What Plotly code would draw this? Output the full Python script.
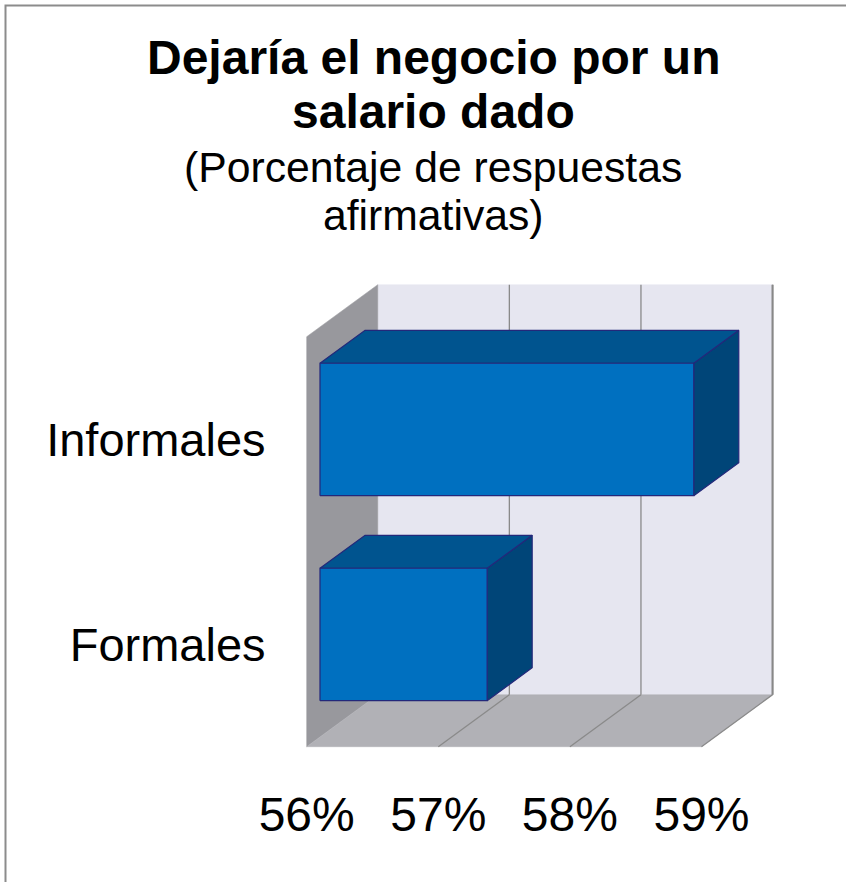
import plotly.graph_objects as go

# ---- data ----
categories = ["Formales", "Informales"]
values = [57.27, 58.84]          # % of affirmative answers
tick_values = [56, 57, 58, 59]
tick_labels = ["56%", "57%", "58%", "59%"]

title_line1 = "Dejaría el negocio por un"
title_line2 = "salario dado"
subtitle_line1 = "(Porcentaje de respuestas"
subtitle_line2 = "afirmativas)"

# ---- 3D look parameters (in data units) ----
AX_MIN = min(tick_values)
AX_MAX = max(tick_values)
DX = 0.54        # depth offset along x (percentage units)
DY = 0.2537      # depth offset along y (category units)
F0, F1 = 0.187, 0.821   # bar depth span (fraction of full depth)
BAR_W = 0.646           # bar thickness (category units)

FONT = "Liberation Sans, Arial, sans-serif"
C_BACK = "#e6e6f0"
C_LEFT = "#98989d"
C_FLOOR = "#b1b1b6"
C_GRID = "#8a8a8a"
C_FRONT = "#0070c0"
C_TOP = "#00548f"
C_SIDE = "#004578"
C_EDGE = "#23287a"

fig = go.Figure()

def poly(xs, ys, fill, line_color, lw=1):
    fig.add_trace(go.Scatter(
        x=list(xs) + [xs[0]], y=list(ys) + [ys[0]], mode="lines",
        fill="toself", fillcolor=fill,
        line=dict(color=line_color, width=lw),
        hoverinfo="skip", showlegend=False))

def seg(x0, y0, x1, y1, color, lw=1.2):
    fig.add_trace(go.Scatter(x=[x0, x1], y=[y0, y1], mode="lines",
                             line=dict(color=color, width=lw),
                             hoverinfo="skip", showlegend=False))

n = len(categories)
ylo, yhi = -0.5, n - 0.5

# back wall
poly([AX_MIN + DX, AX_MAX + DX, AX_MAX + DX, AX_MIN + DX],
     [ylo + DY, ylo + DY, yhi + DY, yhi + DY], C_BACK, C_BACK, 0.5)
# left wall
poly([AX_MIN, AX_MIN + DX, AX_MIN + DX, AX_MIN],
     [ylo, ylo + DY, yhi + DY, yhi], C_LEFT, C_LEFT, 0.5)
# floor
poly([AX_MIN, AX_MAX, AX_MAX + DX, AX_MIN + DX],
     [ylo, ylo, ylo + DY, ylo + DY], C_FLOOR, C_FLOOR, 0.5)

# gridlines on back wall and floor
for t in tick_values[1:]:
    seg(t + DX, ylo + DY, t + DX, yhi + DY, C_GRID, 1.3)
    seg(t, ylo, t + DX, ylo + DY, C_GRID, 1.3)
seg(AX_MAX + DX, ylo + DY, AX_MAX + DX, yhi + DY, "#888888", 2)

# bars (drawn from top category down)
order = sorted(range(n), key=lambda i: -i)
for i in order:
    v = values[i]
    c = i
    b, t = c - BAR_W / 2, c + BAR_W / 2
    x0f, x1f = AX_MIN + F0 * DX, v + F0 * DX
    x0b, x1b = AX_MIN + F1 * DX, v + F1 * DX
    # side
    poly([x1f, x1b, x1b, x1f], [b + F0 * DY, b + F1 * DY, t + F1 * DY, t + F0 * DY],
         C_SIDE, C_EDGE, 1.2)
    # top
    poly([x0f, x1f, x1b, x0b], [t + F0 * DY, t + F0 * DY, t + F1 * DY, t + F1 * DY],
         C_TOP, C_EDGE, 1.2)
    # front
    poly([x0f, x1f, x1f, x0f], [b + F0 * DY, b + F0 * DY, t + F0 * DY, t + F0 * DY],
         C_FRONT, C_EDGE, 1.2)

# ---- layout ----
W, H = 846, 882
L, R, T, B = 300, 66, 278, 130
px_per_x = 131.6
px_per_y = 205.0
x_start = AX_MIN - 6.7 / px_per_x
x_end = x_start + (W - L - R) / px_per_x
y_start = ylo - 5.3 / px_per_y
y_end = y_start + (H - T - B) / px_per_y

plot_w = W - L - R
plot_h = H - T - B

def px_to_paper_x(px):
    return (px - L) / plot_w

def px_to_paper_y(py):
    return (H - B - py) / plot_h

fig.update_layout(
    width=W, height=H,
    margin=dict(l=L, r=R, t=T, b=B, autoexpand=False),
    paper_bgcolor="white", plot_bgcolor="white",
    font=dict(family=FONT, color="black"),
    xaxis=dict(range=[x_start, x_end], tickvals=tick_values, ticktext=tick_labels,
               showgrid=False, zeroline=False, showline=False,
               ticks="outside", ticklen=20, tickcolor="rgba(0,0,0,0)",
               tickfont=dict(size=48, family=FONT, color="black"), fixedrange=True),
    yaxis=dict(range=[y_start, y_end], tickvals=list(range(n)), ticktext=categories,
               showgrid=False, zeroline=False, showline=False,
               ticks="outside", ticklen=24, tickcolor="rgba(0,0,0,0)",
               tickfont=dict(size=47, family=FONT, color="black"), fixedrange=True),
    showlegend=False,
)

cx = px_to_paper_x(433)
anns = [
    (title_line1, 57, 48, True),
    (title_line2, 111, 48, True),
    (subtitle_line1, 167, 42.7, False),
    (subtitle_line2, 215, 42.7, False),
]
for text, yc, size, bold in anns:
    fig.add_annotation(
        text=f"<b>{text}</b>" if bold else text,
        xref="paper", yref="paper", x=cx, y=px_to_paper_y(yc),
        xanchor="center", yanchor="middle", showarrow=False,
        font=dict(size=size, family=FONT, color="black"))

# outer frame (left and top edges visible)
fig.add_shape(type="rect", xref="paper", yref="paper",
              x0=px_to_paper_x(5.5), x1=px_to_paper_x(960),
              y0=px_to_paper_y(990), y1=px_to_paper_y(5.5),
              line=dict(color="#8c8c8c", width=2), fillcolor="rgba(0,0,0,0)",
              layer="below")

fig.write_html("out.html", config={"displayModeBar": False, "staticPlot": True},
               post_script="document.body.style.margin='0';document.body.style.overflow='hidden';")
